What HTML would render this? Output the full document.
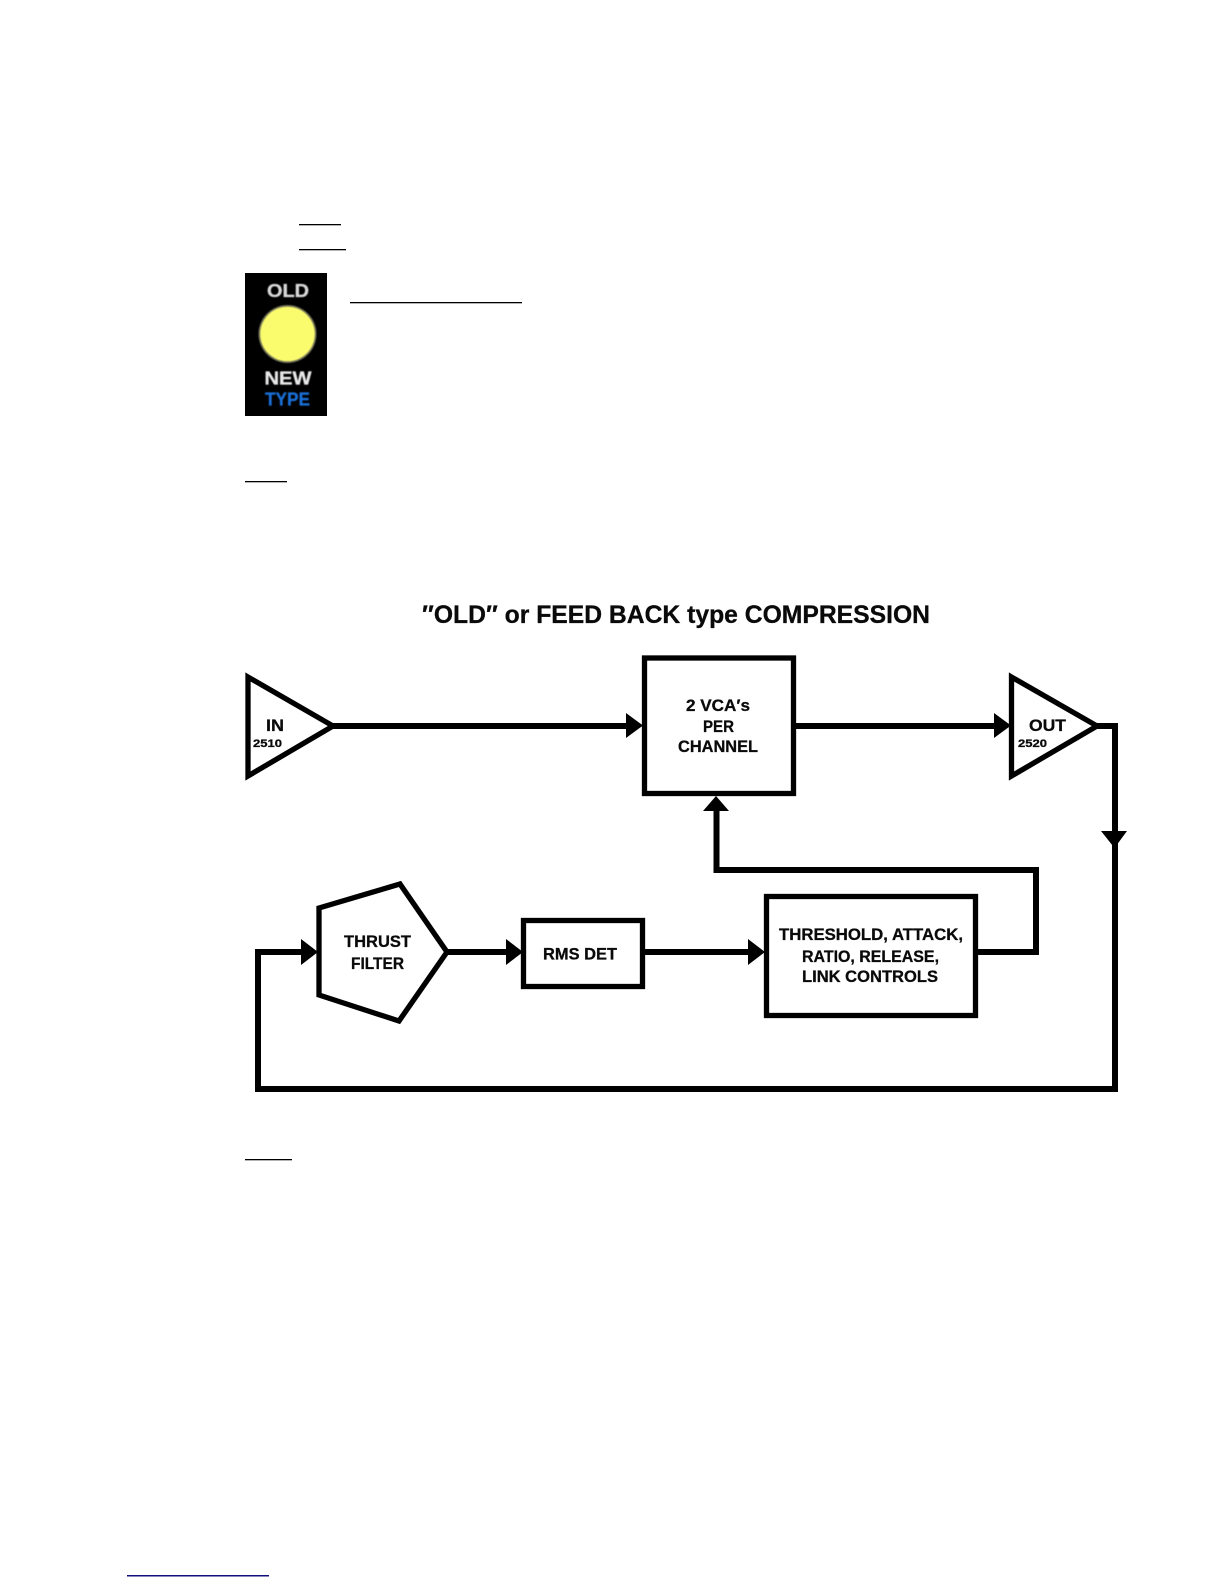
<!DOCTYPE html>
<html>
<head>
<meta charset="utf-8">
<style>
html,body{margin:0;padding:0;background:#fff;}
svg{display:block;}
text{font-family:"Liberation Sans",sans-serif;font-weight:bold;fill:#0a0a0a;stroke:#0a0a0a;stroke-width:.3px;}
.soft{filter:blur(.4px);}
</style>
</head>
<body>
<svg width="1224" height="1584" viewBox="0 0 1224 1584" xmlns="http://www.w3.org/2000/svg">
<rect width="1224" height="1584" fill="#fff"/>
<g fill="#000">
<rect x="299" y="224" width="42" height="1.3"/>
<rect x="299" y="249" width="47" height="1.3"/>
<rect x="350" y="302" width="172" height="1.3"/>
<rect x="245" y="481" width="42" height="1.3"/>
<rect x="245" y="1159" width="47" height="1.3"/>
</g>
<rect x="127" y="1575" width="142" height="1.5" fill="#10107a"/>

<rect x="245" y="273" width="82" height="143" fill="#000"/>
<g class="soft">
<circle cx="287.500" cy="334" r="29" fill="#77775a"/>
<circle cx="287.500" cy="334" r="27.300" fill="#fbfb6e"/>
<text x="288" y="297" text-anchor="middle" font-size="18" textLength="42" lengthAdjust="spacingAndGlyphs" style="fill:#d8d8d8;stroke:#d8d8d8">OLD</text>
<text x="288" y="384.500" text-anchor="middle" font-size="18" textLength="47" lengthAdjust="spacingAndGlyphs" style="fill:#e8e8e8;stroke:#e8e8e8">NEW</text>
<text x="287.500" y="405.500" text-anchor="middle" font-size="18" textLength="45" lengthAdjust="spacingAndGlyphs" style="fill:#1a6fd6;stroke:#1a6fd6">TYPE</text>
</g>

<text x="422" y="623" font-size="25" textLength="508" lengthAdjust="spacingAndGlyphs">″OLD″ or FEED BACK type COMPRESSION</text>

<g fill="none" stroke="#000" stroke-width="5.300" stroke-linejoin="miter">
<polygon points="248,677 333,726 248,776"/>
<polygon points="1011.500,677 1097,726 1011.500,776"/>
<rect x="644.500" y="658" width="149" height="135.500"/>
<polygon points="319,908 400,884 447,952 399,1021 319,995" stroke-miterlimit="10"/>
<rect x="523.500" y="920.500" width="119" height="66"/>
<rect x="766.500" y="896.500" width="209" height="119"/>
</g>

<g fill="none" stroke="#000" stroke-width="6" stroke-linejoin="miter">
<path d="M330 726H628"/>
<path d="M796 726H996"/>
<path d="M1092 726H1115V1089H258V952H303"/>
<path d="M445 952H508"/>
<path d="M645 952H750"/>
<path d="M978 952H1036V870H716.500V809"/>
</g>

<g fill="#000">
<polygon points="626,713 643,725.500 626,738"/>
<polygon points="994,713 1011,725.500 994,738"/>
<polygon points="703,811 716,796 729,811"/>
<polygon points="1101,831 1127,831 1114.500,848"/>
<polygon points="301,939 318,952 301,965"/>
<polygon points="506,939 523,952 506,965"/>
<polygon points="748,939 765,952 748,965"/>
</g>

<g font-size="17">
<text x="686" y="711" textLength="64" lengthAdjust="spacingAndGlyphs">2 VCA′s</text>
<text x="703" y="732" textLength="31" lengthAdjust="spacingAndGlyphs">PER</text>
<text x="678" y="752" textLength="80" lengthAdjust="spacingAndGlyphs">CHANNEL</text>
<text x="266" y="731" textLength="18" lengthAdjust="spacingAndGlyphs">IN</text>
<text x="1029" y="731" textLength="37" lengthAdjust="spacingAndGlyphs">OUT</text>
<text x="344" y="947" textLength="67" lengthAdjust="spacingAndGlyphs">THRUST</text>
<text x="351" y="969" textLength="53" lengthAdjust="spacingAndGlyphs">FILTER</text>
<text x="543" y="959.500" textLength="74" lengthAdjust="spacingAndGlyphs">RMS DET</text>
<text x="779" y="940" textLength="184" lengthAdjust="spacingAndGlyphs">THRESHOLD, ATTACK,</text>
<text x="802" y="962" textLength="137" lengthAdjust="spacingAndGlyphs">RATIO, RELEASE,</text>
<text x="802" y="982" textLength="136" lengthAdjust="spacingAndGlyphs">LINK CONTROLS</text>
</g>
<g font-size="11">
<text x="253" y="747" textLength="29" lengthAdjust="spacingAndGlyphs">2510</text>
<text x="1018" y="747" textLength="29" lengthAdjust="spacingAndGlyphs">2520</text>
</g>
</svg>
</body>
</html>
